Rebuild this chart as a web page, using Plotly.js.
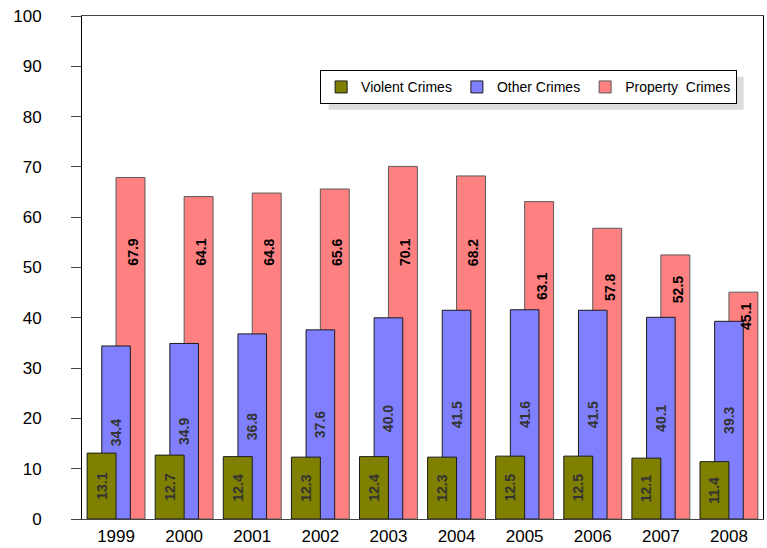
<!DOCTYPE html>
<html>
<head>
<meta charset="utf-8">
<script src="https://cdn.plot.ly/plotly-3.0.1.min.js"></script>
<style>html,body{margin:0;padding:0;background:#fff;}#chart{width:767px;height:548px;}</style>
</head>
<body>
<div id="chart"></div>
<script>
const years = ['1999','2000','2001','2002','2003','2004','2005','2006','2007','2008'];
const violentCrimes = [13.1, 12.7, 12.4, 12.3, 12.4, 12.3, 12.5, 12.5, 12.1, 11.4];
const otherCrimes = [34.4, 34.9, 36.8, 37.6, 40.0, 41.5, 41.6, 41.5, 40.1, 39.3];
const propertyCrimes = [67.9, 64.1, 64.8, 65.6, 70.1, 68.2, 63.1, 57.8, 52.5, 45.1];
const yTicks = [0, 10, 20, 30, 40, 50, 60, 70, 80, 90, 100];

// where the property labels sit (layout detail, in value units)
const propLabelHeight = [53, 53, 53, 53, 53, 53, 46.3, 46.1, 45.5, 40.2];

const FONT = 'Liberation Sans, Arial, sans-serif';
const BAR_W = 0.425;
const M = {l: 82, r: 4, t: 16, b: 29};

const traces = [
  {
    type: 'bar', name: 'Property  Crimes', x: years, y: propertyCrimes,
    offset: 0, width: BAR_W,
    marker: {color: '#FF8080', line: {color: '#5a5a5a', width: 1}},
    hoverinfo: 'none'
  },
  {
    type: 'bar', name: 'Other Crimes', x: years, y: otherCrimes,
    offset: -0.21, width: 0.42,
    marker: {color: '#8080FF', line: {color: '#1a1a1a', width: 1}},
    text: otherCrimes.map(v => '<b>' + v.toFixed(1) + '</b>'),
    textposition: 'inside', insidetextanchor: 'middle', textangle: -90,
    textfont: {family: FONT, size: 14, color: '#333333'},
    constraintext: 'none',
    hoverinfo: 'none'
  },
  {
    type: 'bar', name: 'Violent Crimes', x: years, y: violentCrimes,
    offset: -BAR_W, width: BAR_W,
    marker: {color: '#808000', line: {color: '#1a1a1a', width: 1}},
    text: violentCrimes.map(v => '<b>' + v.toFixed(1) + '</b>'),
    textposition: 'inside', insidetextanchor: 'middle', textangle: -90,
    textfont: {family: FONT, size: 14, color: '#333333'},
    constraintext: 'none',
    hoverinfo: 'none'
  }
];

const annotations = propertyCrimes.map((v, i) => ({
  x: i + BAR_W / 2 + 0.04, y: propLabelHeight[i], xref: 'x', yref: 'y',
  text: '<b>' + v.toFixed(1) + '</b>', showarrow: false, textangle: -90,
  font: {family: FONT, size: 14, color: '#000'}
}));

const layout = {
  width: 767, height: 548,
  margin: M,
  paper_bgcolor: '#fff', plot_bgcolor: '#fff',
  barmode: 'overlay',
  showlegend: true,
  legend: {
    orientation: 'h', traceorder: 'reversed',
    x: 0.962, xanchor: 'right', y: 0.892, yanchor: 'top',
    bgcolor: '#fff', bordercolor: '#000', borderwidth: 1,
    font: {family: FONT, size: 14, color: '#000'},
    itemwidth: 30, tracegroupgap: 0
  },
  xaxis: {
    type: 'category', range: [-0.5, 9.5],
    showline: true, linecolor: '#444', linewidth: 1, mirror: true,
    ticks: '', showgrid: false,
    tickfont: {family: FONT, size: 17, color: '#000'},
    ticklabelstandoff: 2
  },
  yaxis: {
    range: [0, 100], tickvals: yTicks,
    showline: true, linecolor: '#000', linewidth: 1, mirror: true,
    ticks: 'outside', ticklen: 10, tickcolor: '#444',
    showgrid: false, zeroline: false,
    tickfont: {family: FONT, size: 17, color: '#000'},
    ticklabelstandoff: 26
  },
  annotations: annotations
};

const gd = document.getElementById('chart');
Plotly.newPlot(gd, traces, layout, {displayModeBar: false, staticPlot: true}).then(() => {
  // drop a grey shadow behind the legend box, offset down-right
  const bg = gd.querySelector('.legend .bg');
  if (!bg) return;
  const r = bg.getBoundingClientRect();
  const c = gd.getBoundingClientRect();
  const pw = 767 - M.l - M.r, ph = 548 - M.t - M.b;
  const px = x => (x - c.left - M.l) / pw;
  const py = y => 1 - (y - c.top - M.t) / ph;
  return Plotly.relayout(gd, {shapes: [{
    type: 'rect', xref: 'paper', yref: 'paper', layer: 'below',
    x0: px(r.left + 8), x1: px(r.right + 7), y0: py(r.bottom + 6), y1: py(r.top + 6),
    fillcolor: '#dcdcdc', line: {width: 0}
  }]});
});
</script>
</body>
</html>
